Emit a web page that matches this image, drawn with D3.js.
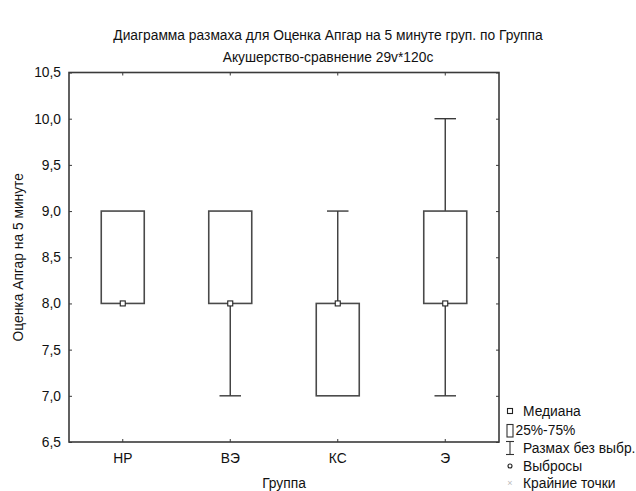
<!DOCTYPE html>
<html>
<head>
<meta charset="utf-8">
<script src="https://cdn.jsdelivr.net/npm/d3@7"></script>
<style>
  html, body { margin: 0; padding: 0; background: #fff; }
  svg { display: block; font-family: "Liberation Sans", Arial, sans-serif; }
</style>
</head>
<body>
<svg id="chart" width="636" height="491"></svg>
<script>
// Groups and box-plot statistics for the 5-minute Apgar score
const groups   = ["НР", "ВЭ", "КС", "Э"];
const medians  = [8, 8, 8, 8];
const q1       = [8, 8, 7, 8];
const q3       = [9, 9, 8, 9];
const whiskLo  = [8, 7, 7, 7];
const whiskHi  = [9, 9, 9, 10];
const yTicks   = [6.5, 7.0, 7.5, 8.0, 8.5, 9.0, 9.5, 10.0, 10.5];

const titleLines = [
  "Диаграмма размаха для Оценка Апгар на 5 минуте груп. по Группа",
  "Акушерство-сравнение 29v*120c"
];
const xTitle = "Группа";
const yTitle = "Оценка Апгар на 5 минуте";
const legendLabels = ["Медиана", "25%-75%", "Размах без выбр.", "Выбросы", "Крайние точки"];

const svg = d3.select("#chart");
const m = { left: 69, right: 499, top: 72.5, bottom: 442 };
const ink = "#3a3a3a";
const fs = 13.8;
const fmt = v => d3.format(".1f")(v).replace(".", ",");

const x = d3.scaleBand().domain(groups).range([m.left, m.right]);
const y = d3.scaleLinear().domain([6.5, 10.5]).range([m.bottom, m.top]);

// Titles
svg.selectAll("text.title").data(titleLines).join("text")
  .attr("class", "title")
  .attr("x", 328).attr("y", (d, i) => 40 + i * 22)
  .attr("text-anchor", "middle")
  .attr("font-size", fs).attr("fill", "#111")
  .text(d => d);

// Axes: labels outside on left/bottom, short inward ticks on all four sides
const fontAxis = g => g.selectAll("text").attr("font-size", fs).attr("fill", "#111")
  .attr("font-family", "'Liberation Sans', Arial, sans-serif");

svg.append("g").attr("transform", `translate(${m.left},0)`)
  .call(d3.axisLeft(y).tickValues(yTicks).tickFormat(fmt).tickSizeInner(-3).tickSizeOuter(0).tickPadding(8))
  .call(g => g.select(".domain").remove())
  .call(g => g.selectAll("line").attr("stroke", ink))
  .call(fontAxis);

svg.append("g").attr("transform", `translate(${m.right},0)`)
  .call(d3.axisRight(y).tickValues(yTicks).tickFormat("").tickSizeInner(-3).tickSizeOuter(0))
  .call(g => g.select(".domain").remove())
  .call(g => g.selectAll("line").attr("stroke", ink));

svg.append("g").attr("transform", `translate(0,${m.bottom})`)
  .call(d3.axisBottom(x).tickSizeInner(-3).tickSizeOuter(0).tickPadding(11))
  .call(g => g.select(".domain").remove())
  .call(g => g.selectAll("line").attr("stroke", ink))
  .call(fontAxis);

svg.append("g").attr("transform", `translate(0,${m.top})`)
  .call(d3.axisTop(x).tickFormat("").tickSizeInner(-3).tickSizeOuter(0))
  .call(g => g.select(".domain").remove())
  .call(g => g.selectAll("line").attr("stroke", ink));

// Frame
svg.append("rect")
  .attr("x", m.left).attr("y", m.top)
  .attr("width", m.right - m.left).attr("height", m.bottom - m.top)
  .attr("fill", "none").attr("stroke", ink).attr("stroke-width", 1.6);

// Axis titles
svg.append("text")
  .attr("x", (m.left + m.right) / 2).attr("y", 488)
  .attr("text-anchor", "middle").attr("font-size", fs).attr("fill", "#111")
  .text(xTitle);

svg.append("text")
  .attr("transform", `translate(23,${(m.top + m.bottom) / 2}) rotate(-90)`)
  .attr("text-anchor", "middle").attr("font-size", fs).attr("fill", "#111")
  .text(yTitle);

// Box plots
const data = groups.map((g, i) => ({
  g, med: medians[i], lo: q1[i], hi: q3[i], wl: whiskLo[i], wh: whiskHi[i]
}));
const bw = x.bandwidth() * 0.4;
const cw = x.bandwidth() * 0.2;
const cx = d => x(d.g) + x.bandwidth() / 2;

const boxes = svg.append("g").selectAll("g").data(data).join("g");

// whiskers (drawn only where the range extends beyond the box)
boxes.each(function(d) {
  const g = d3.select(this);
  const segs = [];
  if (d.wh > d.hi) segs.push([d.hi, d.wh]);
  if (d.wl < d.lo) segs.push([d.wl, d.lo]);
  segs.forEach(([a, b]) => {
    g.append("line").attr("x1", cx(d)).attr("x2", cx(d))
      .attr("y1", y(a)).attr("y2", y(b))
      .attr("stroke", ink).attr("stroke-width", 1.4);
  });
  [d.wl, d.wh].forEach(v => {
    if (v === d.lo || v === d.hi) return;
    g.append("line").attr("x1", cx(d) - cw / 2).attr("x2", cx(d) + cw / 2)
      .attr("y1", y(v)).attr("y2", y(v))
      .attr("stroke", ink).attr("stroke-width", 1.4);
  });
});

boxes.append("rect")
  .attr("x", d => cx(d) - bw / 2).attr("y", d => y(d.hi))
  .attr("width", bw).attr("height", d => y(d.lo) - y(d.hi))
  .attr("fill", "#fff").attr("stroke", "#4a4a4a").attr("stroke-width", 1.6);

boxes.append("rect")
  .attr("x", d => cx(d) - 2.5).attr("y", d => y(d.med) - 2.5)
  .attr("width", 5).attr("height", 5)
  .attr("fill", "#fff").attr("stroke", "#222").attr("stroke-width", 1.1);

// Legend
const lx = 510, tx = 523;
const rows = [411, 430, 448, 466, 483];
const leg = svg.append("g");
leg.append("rect").attr("x", lx - 2.5).attr("y", rows[0] - 2.5).attr("width", 5).attr("height", 5)
  .attr("fill", "#fff").attr("stroke", "#222").attr("stroke-width", 1.1);
leg.append("rect").attr("x", lx - 3).attr("y", 424.5).attr("width", 6).attr("height", 12.5)
  .attr("fill", "#fff").attr("stroke", "#333").attr("stroke-width", 1.1);
leg.append("line").attr("x1", lx).attr("x2", lx).attr("y1", 441.5).attr("y2", 454.5).attr("stroke", "#333").attr("stroke-width", 1.1);
leg.append("line").attr("x1", lx - 4).attr("x2", lx + 4).attr("y1", 441.5).attr("y2", 441.5).attr("stroke", "#333").attr("stroke-width", 1.1);
leg.append("line").attr("x1", lx - 4).attr("x2", lx + 4).attr("y1", 454.5).attr("y2", 454.5).attr("stroke", "#333").attr("stroke-width", 1.1);
leg.append("circle").attr("cx", lx).attr("cy", rows[3]).attr("r", 2)
  .attr("fill", "#fff").attr("stroke", "#222").attr("stroke-width", 1.1);
leg.append("text").attr("x", lx).attr("y", rows[4] + 3).attr("text-anchor", "middle")
  .attr("font-size", 9).attr("fill", "#bbb").text("×");

leg.selectAll("text.lab").data(legendLabels).join("text")
  .attr("class", "lab")
  .attr("x", (d, i) => i === 1 ? 515.5 : tx)
  .attr("y", (d, i) => rows[i] + 5)
  .attr("font-size", fs).attr("fill", "#111")
  .text(d => d);
</script>
</body>
</html>
